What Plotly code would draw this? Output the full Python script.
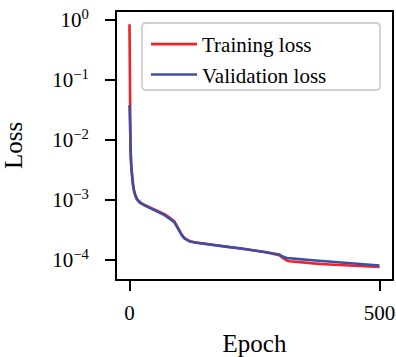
import plotly.graph_objects as go

# Loss history per epoch checkpoint
epochs = [0, 1, 2, 3, 4, 5, 6, 8, 10, 12, 15, 20, 25, 30, 40, 50, 60, 70, 80, 90,
          95, 100, 105, 110, 115, 120, 130, 140, 150, 175, 200, 225, 250, 275, 290,
          300, 305, 310, 315, 320, 330, 340, 360, 380, 400, 425, 450, 475, 500]

training_loss = [0.85, 1.35e-2, 6.8e-3, 4.4e-3, 3.1e-3, 2.45e-3, 2.05e-3, 1.55e-3,
                 1.31e-3, 1.15e-3, 1.03e-3, 9.3e-4, 8.7e-4, 8.3e-4, 7.6e-4, 7.0e-4,
                 6.4e-4, 5.8e-4, 5.1e-4, 4.35e-4, 3.65e-4, 3.05e-4, 2.6e-4, 2.32e-4,
                 2.17e-4, 2.07e-4, 1.98e-4, 1.93e-4, 1.86e-4, 1.76e-4, 1.66e-4,
                 1.57e-4, 1.44e-4, 1.35e-4, 1.25e-4, 1.2e-4, 1.10e-4, 1.02e-4,
                 9.8e-5, 9.5e-5, 9.3e-5, 9.1e-5, 8.8e-5, 8.6e-5, 8.4e-5, 8.2e-5,
                 8.0e-5, 7.85e-5, 7.65e-5]

validation_loss = [3.8e-2, 1.41e-2, 7.1e-3, 4.5e-3, 3.2e-3, 2.5e-3, 2.1e-3, 1.58e-3,
                   1.32e-3, 1.15e-3, 1.02e-3, 9.1e-4, 8.5e-4, 8.1e-4, 7.4e-4, 6.8e-4,
                   6.2e-4, 5.6e-4, 4.9e-4, 4.2e-4, 3.55e-4, 3.0e-4, 2.57e-4, 2.29e-4,
                   2.14e-4, 2.04e-4, 1.95e-4, 1.91e-4, 1.84e-4, 1.74e-4, 1.64e-4,
                   1.55e-4, 1.43e-4, 1.35e-4, 1.27e-4, 1.23e-4, 1.15e-4, 1.10e-4,
                   1.08e-4, 1.07e-4, 1.06e-4, 1.035e-4, 1.0e-4, 9.7e-5, 9.3e-5,
                   9.0e-5, 8.7e-5, 8.4e-5, 8.1e-5]

x_ticks = [0, 500]
y_ticks = [1e0, 1e-1, 1e-2, 1e-3, 1e-4]
y_tick_text = ["10<sup>0</sup>", "10<sup>\u22121</sup>", "10<sup>\u22122</sup>",
               "10<sup>\u22123</sup>", "10<sup>\u22124</sup>"]

RED = "#EE2229"
BLUE = "#3C4FA5"
FONT = "Liberation Serif"
FS = 21

fig = go.Figure()
fig.add_trace(go.Scatter(x=epochs, y=training_loss, mode="lines", name="Training loss",
                         line=dict(color=RED, width=2.6)))
fig.add_trace(go.Scatter(x=epochs, y=validation_loss, mode="lines", name="Validation loss",
                         line=dict(color=BLUE, width=2.6)))

W, H = 396, 357
L, R, T, B = 117, 4, 12, 78
pw, ph = W - L - R, H - T - B

def px(x):
    return (x - L) / pw

def py(y):
    return (H - B - y) / ph

# rounded legend frame
x0, x1, y0, y1 = 142, 380, 23, 90
r = 4
rx, ry = r / pw, r / ph
path = (f"M {px(x0)+rx},{py(y0)} L {px(x1)-rx},{py(y0)} "
        f"Q {px(x1)},{py(y0)} {px(x1)},{py(y0)-ry} "
        f"L {px(x1)},{py(y1)+ry} Q {px(x1)},{py(y1)} {px(x1)-rx},{py(y1)} "
        f"L {px(x0)+rx},{py(y1)} Q {px(x0)},{py(y1)} {px(x0)},{py(y1)+ry} "
        f"L {px(x0)},{py(y0)-ry} Q {px(x0)},{py(y0)} {px(x0)+rx},{py(y0)} Z")
fig.add_shape(type="path", path=path, xref="paper", yref="paper",
              line=dict(color="#d0d0d0", width=1.8), fillcolor="white", layer="above")

fig.update_layout(
    width=W, height=H,
    margin=dict(l=L, r=R, t=T, b=B, autoexpand=False),
    paper_bgcolor="white", plot_bgcolor="white",
    font=dict(family=FONT, size=FS, color="black"),
    showlegend=True,
    legend=dict(x=px(146), y=py(24), xanchor="left", yanchor="top",
                bgcolor="rgba(0,0,0,0)", borderwidth=0,
                font=dict(family=FONT, size=FS), itemwidth=46, tracegroupgap=0),
)
fig.update_xaxes(range=[-25, 525], tickvals=x_ticks, ticks="outside", ticklen=10,
                 tickwidth=1.8, tickcolor="black", showline=True, linecolor="black",
                 linewidth=1.8, mirror=True, showgrid=False, zeroline=False,
                 ticklabelstandoff=4, automargin=False,
                 title=dict(text="Epoch", standoff=14), tickfont=dict(size=FS))
fig.update_yaxes(type="log", range=[-4.317, 0.133], tickvals=y_ticks, ticktext=y_tick_text,
                 ticks="outside", ticklen=10, tickwidth=1.8, tickcolor="black",
                 showline=True, linecolor="black", linewidth=1.8, mirror=True,
                 showgrid=False, zeroline=False, ticklabelstandoff=12, automargin=False,
                 title=dict(text="Loss", standoff=24), tickfont=dict(size=FS))

fig.write_html("out.html")
